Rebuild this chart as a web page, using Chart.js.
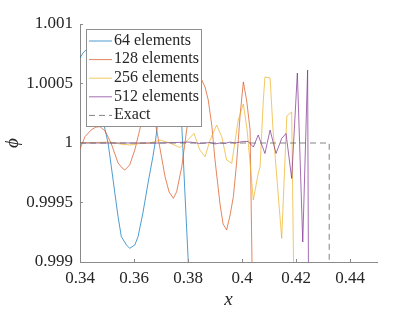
<!DOCTYPE html>
<html>
<head>
<meta charset="utf-8">
<script src="https://cdn.jsdelivr.net/npm/chart.js@4/dist/chart.umd.min.js"></script>
<style>
  body { margin: 0; background: #fff; font-family: "Liberation Serif"; }
  canvas { display: block; }
</style>
</head>
<body>
<canvas id="phiChart" width="415" height="312"></canvas>
<script>
// values
const x64 = [0.3400, 0.3411, 0.3422, 0.3437, 0.3456, 0.3474, 0.3489, 0.3504, 0.3516, 0.3529, 0.3541, 0.3553, 0.3572, 0.3584,
    0.3603, 0.3615, 0.3633, 0.3652, 0.3670, 0.3680, 0.3689, 0.3715, 0.3741, 0.3763, 0.3777, 0.3789, 0.3801, 0.3807]
const phi64 = [1.000714, 1.000756, 1.000782, 1.000765, 1.000655, 1.000403, 1.000151, 1.000000, 0.999801, 0.999580, 0.999381,
    0.999213, 0.999143, 0.999115, 0.999143, 0.999213, 0.999412, 0.999664, 0.999885, 1.000025, 1.000193, 1.000697, 1.000866,
    1.000697, 1.000143, 0.999563, 0.999000, 0.998681]

const x128 = [0.3400, 0.3419, 0.3441, 0.3459, 0.3474, 0.3493, 0.3515, 0.3541, 0.3556, 0.3566, 0.3584, 0.3603, 0.3621, 0.3637,
    0.3652, 0.3667, 0.3684, 0.3696, 0.3715, 0.3730, 0.3746, 0.3758, 0.3777, 0.3795, 0.3811, 0.3830, 0.3841, 0.3851, 0.3863,
    0.3875, 0.3888, 0.3900, 0.3919, 0.3930, 0.3943, 0.3956, 0.3968, 0.3980, 0.3993, 0.4005, 0.4017, 0.4030, 0.4037, 0.4041]
const phi128 = [0.999950, 1.000055, 1.000109, 1.000134, 1.000137, 1.000101, 1.000000, 0.999832, 0.999790, 0.999773, 0.999815,
    0.999941, 1.000109, 1.000261, 1.000328, 1.000277, 1.000109, 0.999958, 0.999717, 0.999588, 0.999535, 0.999591, 0.999801,
    1.000109, 1.000361, 1.000546, 1.000563, 1.000529, 1.000471, 1.000361, 1.000151, 0.999857, 0.999479, 0.999319, 0.999269,
    0.999395, 0.999549, 0.999832, 1.000235, 1.000513, 1.000361, 1.000109, 0.999000, 0.998681]

const x256 = [0.3400, 0.3456, 0.3511, 0.3548, 0.3585, 0.3622, 0.3659, 0.3696, 0.3733, 0.3770, 0.3796, 0.3822, 0.3844, 0.3863,
    0.3882, 0.3906, 0.3925, 0.3943, 0.3962, 0.3986, 0.4005, 0.4019, 0.4042, 0.4059, 0.4067, 0.4079, 0.4085, 0.4104, 0.4115,
    0.4147, 0.4166, 0.4184, 0.4191, 0.4193]
const phi256 = [1.000000, 1.000004, 1.000008, 0.999992, 0.999983, 0.999996, 1.000000, 1.000025, 1.000000, 0.999962, 1.000017,
    1.000080, 0.999941, 0.999885, 1.000025, 1.000151, 1.000053, 0.999857, 0.999829, 1.000193, 1.000328, 1.000109, 0.999521,
    0.999731, 0.999801, 1.000361, 1.000555, 1.000546, 1.000109, 0.999199, 1.000227, 1.000261, 0.998975, 0.998681]

const x512 = [0.3400, 0.3548, 0.3696, 0.3807, 0.3844, 0.3882, 0.3900, 0.3919, 0.3937, 0.3956, 0.3974, 0.3993, 0.4007, 0.4023,
    0.4042, 0.4060, 0.4085, 0.4104, 0.4126, 0.4147, 0.4163, 0.4184, 0.4205, 0.4225, 0.4243, 0.4246, 0.4248]
const phi512 = [1.000000, 1.000000, 1.000000, 1.000008, 0.999996, 1.000004, 0.999992, 1.000000, 0.999996, 1.000008, 1.000000,
    1.000008, 1.000013, 1.000013, 0.999966, 1.000067, 0.999912, 1.000109, 0.999912, 1.000038, 1.000080, 0.999702, 1.000588,
    0.999168, 1.000613, 0.998975, 0.998681]

const xExact = [0.34, 0.4323, 0.4323]
const phiExact = [1, 1, 0.999]

const seriesLabels = ['64 elements', '128 elements', '256 elements', '512 elements', 'Exact']
const xTicks = [0.34, 0.36, 0.38, 0.40, 0.42, 0.44]
const yTicks = [0.999, 0.9995, 1, 1.0005, 1.001]

const fontName = 'Liberation Serif'
const axisGrey = '#8a8a8a'
const textColor = '#262626'

Chart.defaults.font.family = fontName

function pts(xs, ys) {
    return xs.map((x, i) => ({ x: x, y: ys[i] }))
}
function fmt(v) {
    return parseFloat(Number(v).toFixed(5)).toString()
}

// MATLAB style ticks pointing into the axes
const innerTicks = {
    id: 'innerTicks',
    afterDatasetsDraw(chart) {
        const ctx = chart.ctx
        const xs = chart.scales.x, ys = chart.scales.y
        const area = chart.chartArea
        ctx.save()
        ctx.strokeStyle = axisGrey
        ctx.lineWidth = 1
        ctx.beginPath()
        xTicks.forEach(v => {
            const px = Math.round(xs.getPixelForValue(v)) + 0.5
            ctx.moveTo(px, area.bottom)
            ctx.lineTo(px, area.bottom - 3)
        })
        yTicks.forEach(v => {
            const py = Math.round(ys.getPixelForValue(v)) + 0.5
            ctx.moveTo(area.left, py)
            ctx.lineTo(area.left + 3, py)
        })
        ctx.stroke()
        ctx.restore()
    }
}

// legend box drawn on top of the lines, inside the axes
const boxLegend = {
    id: 'boxLegend',
    afterDatasetsDraw(chart) {
        const ctx = chart.ctx
        const area = chart.chartArea
        const left = area.left + 6, top = area.top + 5
        const w = 115, rowH = 18.6
        const h = rowH * chart.data.datasets.length + 4
        ctx.save()
        ctx.fillStyle = '#fff'
        ctx.fillRect(left, top, w, h)
        ctx.strokeStyle = '#8f8f8f'
        ctx.lineWidth = 1
        ctx.strokeRect(left + 0.5, top + 0.5, w, h)
        ctx.font = '16px "' + fontName + '"'
        ctx.textBaseline = 'middle'
        chart.data.datasets.forEach((ds, i) => {
            const cy = top + 11.5 + i * rowH
            ctx.strokeStyle = ds.borderColor
            ctx.setLineDash(ds.borderDash || [])
            ctx.beginPath()
            ctx.moveTo(left + 3, cy + 0.5)
            ctx.lineTo(left + 26, cy + 0.5)
            ctx.stroke()
            ctx.setLineDash([])
            ctx.fillStyle = textColor
            ctx.fillText(ds.label, left + 28, cy)
        })
        ctx.restore()
    }
}

const ctx = document.getElementById('phiChart')
const phiChart = new Chart(ctx, {
    type: 'line',
    data: {
        datasets: [
            { label: seriesLabels[0], data: pts(x64, phi64), borderColor: 'rgba(0, 114, 189, 0.7)', order: 4 },
            { label: seriesLabels[1], data: pts(x128, phi128), borderColor: 'rgba(217, 83, 25, 0.7)', order: 3 },
            { label: seriesLabels[2], data: pts(x256, phi256), borderColor: 'rgba(237, 177, 32, 0.7)', order: 2 },
            { label: seriesLabels[3], data: pts(x512, phi512), borderColor: 'rgba(126, 47, 142, 0.7)', order: 1 },
            { label: seriesLabels[4], data: pts(xExact, phiExact), borderColor: 'rgba(110, 110, 110, 0.85)', borderDash: [6, 4], order: 0 }
        ]
    },
    options: {
        responsive: false,
        animation: false,
        parsing: false,
        datasets: {
            line: { borderWidth: 1, pointRadius: 0, tension: 0, fill: false }
        },
        layout: { padding: { top: 24, right: 38, left: 0, bottom: 0 } },
        plugins: {
            legend: { display: false },
            tooltip: { enabled: false }
        },
        scales: {
            x: {
                type: 'linear',
                min: 0.34,
                max: 0.45,
                afterBuildTicks: s => { s.ticks = xTicks.map(v => ({ value: v })) },
                afterFit: s => { s.height = 50 },
                grid: { display: false, drawTicks: false },
                border: { color: axisGrey, width: 1 },
                ticks: {
                    autoSkip: false, maxRotation: 0, padding: 6, color: textColor,
                    font: { family: fontName, size: 17 },
                    callback: v => fmt(v)
                },
                title: {
                    display: true, text: 'x', color: textColor, padding: { top: 0, bottom: 1 },
                    font: { family: fontName, size: 19, style: 'italic' }
                }
            },
            y: {
                type: 'linear',
                min: 0.999,
                max: 1.001,
                afterBuildTicks: s => { s.ticks = yTicks.map(v => ({ value: v })) },
                afterFit: s => { s.width = 80 },
                grid: { display: false, drawTicks: false },
                border: { color: axisGrey, width: 1 },
                ticks: {
                    autoSkip: false, padding: 7, color: textColor,
                    font: { family: fontName, size: 17 },
                    callback: v => fmt(v)
                },
                title: {
                    display: true, text: 'ϕ', color: textColor, padding: { top: 2, bottom: 0 },
                    font: { family: fontName, size: 19, style: 'italic' }
                }
            }
        }
    },
    plugins: [innerTicks, boxLegend]
})
</script>
</body>
</html>
